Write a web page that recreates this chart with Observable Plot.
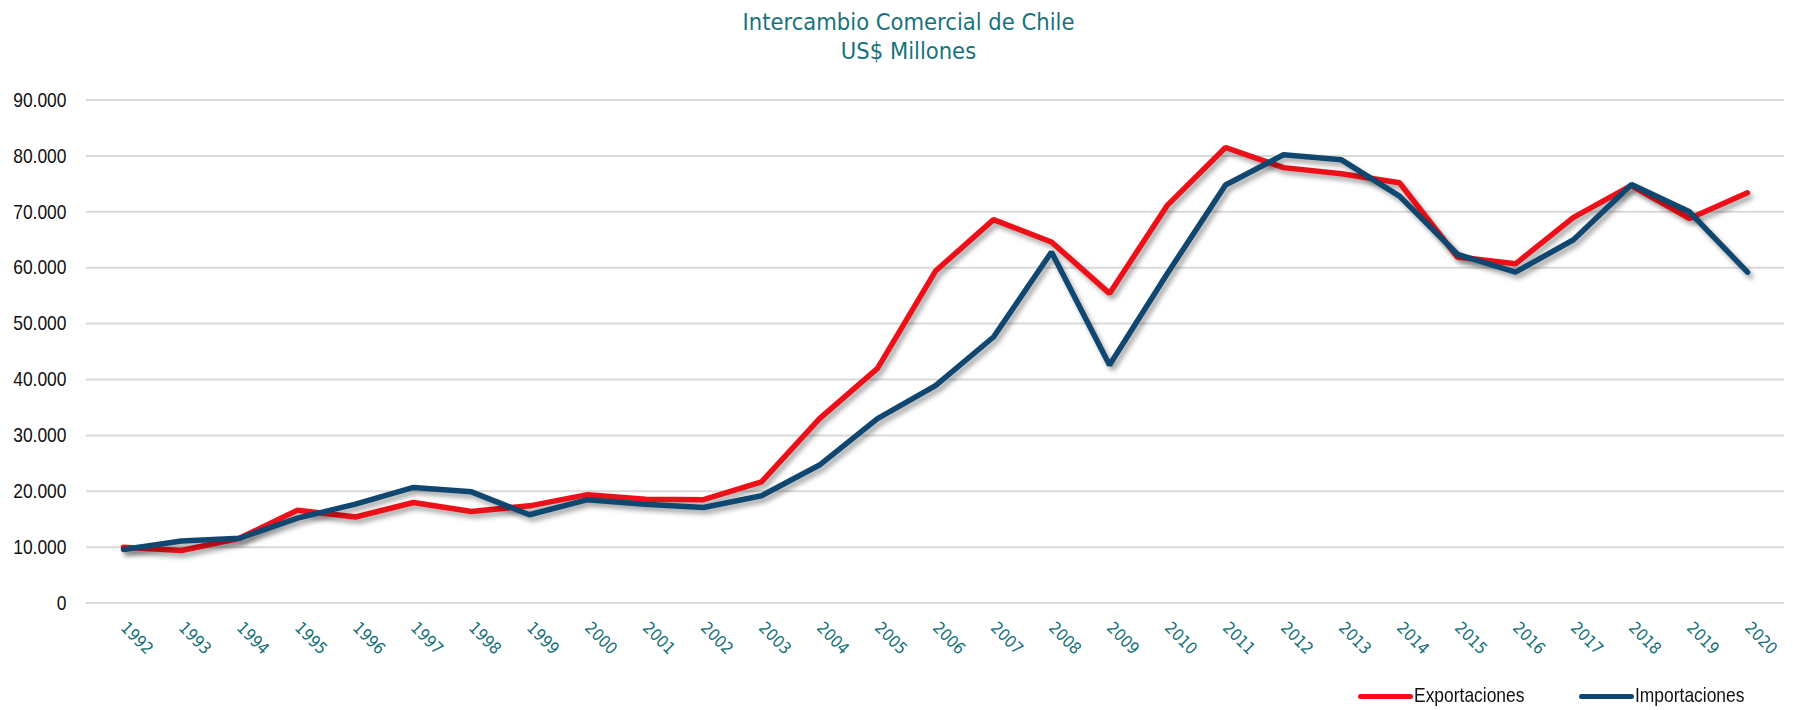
<!DOCTYPE html>
<html>
<head>
<meta charset="utf-8">
<script src="https://cdn.jsdelivr.net/npm/d3@7"></script>
<script src="https://cdn.jsdelivr.net/npm/@observablehq/plot@0.6"></script>
<style>
  body { margin: 0; background: #fff; }
  #wrap { width: 1793px; height: 710px; position: relative; overflow: hidden; }
  #title { height: 70px; box-sizing: border-box; padding-top: 8px; text-align: center;
    position: relative; left: 12px; font-family: "DejaVu Sans Condensed", "DejaVu Sans", sans-serif;
    font-size: 23.5px; line-height: 29px; color: #17727b; }
  #legend { position: relative; height: 40px; font-family: "Liberation Sans", sans-serif;
    font-size: 21px; color: #111; }
  .sw { position: absolute; height: 5px; border-radius: 3px; top: 24px; width: 55px; }
  .lt { position: absolute; top: 14px; line-height: 22px; transform: scaleX(0.83); transform-origin: 0 50%; white-space: nowrap; }
  g[aria-label="line"] { filter: drop-shadow(3px 4px 2.5px rgba(0,0,0,0.35)); }
</style>
</head>
<body>
<div id="wrap">
  <div id="title">Intercambio Comercial de Chile<br>US$ Millones</div>
  <div id="chart"></div>
  <div id="legend"></div>
</div>
<script>
const years = [1992,1993,1994,1995,1996,1997,1998,1999,2000,2001,2002,2003,2004,2005,2006,2007,2008,2009,2010,2011,2012,2013,2014,2015,2016,2017,2018,2019,2020];
const exportaciones = [10000,9400,11600,16600,15400,18000,16400,17400,19400,18600,18500,21700,33000,42000,59400,68600,64600,55400,71200,81500,77900,76800,75200,61900,60700,69000,74700,68800,73400];
const importaciones = [9600,11100,11600,15200,17700,20700,19900,15800,18500,17700,17100,19200,24700,33000,38900,47600,62800,42600,59000,74800,80200,79300,72800,62400,59200,65000,74900,70000,59200];
const yTicks = [0,10000,20000,30000,40000,50000,60000,70000,80000,90000];
const seriesNames = ["Exportaciones", "Importaciones"];
const seriesColors = ["#ee1018", "#0f4771"];

const fmt = d3.formatLocale({decimal: ",", thousands: ".", grouping: [3], currency: ["$", ""]}).format(",");

const rows = [];
years.forEach((yr, i) => {
  rows.push({year: yr, value: exportaciones[i], serie: seriesNames[0]});
  rows.push({year: yr, value: importaciones[i], serie: seriesNames[1]});
});

const chart = Plot.plot({
  width: 1793,
  height: 600,
  marginLeft: 86,
  marginRight: 9,
  marginTop: 29.5,
  marginBottom: 67.4,
  style: {fontFamily: "'Liberation Sans', sans-serif", fontSize: "21px", background: "#fff", overflow: "visible"},
  x: {type: "point", domain: years, padding: 0.5},
  y: {domain: [0, 90000]},
  color: {domain: seriesNames, range: seriesColors},
  marks: [
    Plot.gridY(yTicks, {stroke: "#d9d9d9", strokeOpacity: 1, strokeWidth: 2}),
    Plot.axisY(yTicks, {tickSize: 0, tickPadding: 20, tickFormat: fmt, fill: "#111", label: null, fontSize: 21}),
    Plot.axisX(years, {tickSize: 0, tickRotate: 45, tickPadding: 22, tickFormat: d => String(d), fill: "#147079", label: null,
      fontFamily: "'DejaVu Sans Condensed', 'DejaVu Sans', sans-serif", fontSize: 16.5}),
    Plot.lineY(rows.filter(d => d.serie === seriesNames[0]), {x: "year", y: "value", stroke: "serie", strokeWidth: 5.5, strokeLinejoin: "miter", strokeLinecap: "round"}),
    Plot.lineY(rows.filter(d => d.serie === seriesNames[1]), {x: "year", y: "value", stroke: "serie", strokeWidth: 5.5, strokeLinejoin: "miter", strokeLinecap: "round"})
  ]
});
document.getElementById("chart").appendChild(chart);

// condense y-axis labels to mimic a narrow typeface
d3.select(chart).selectAll('g[aria-label="y-axis tick label"] text').each(function() {
  const len = this.getComputedTextLength();
  if (len > 0) {
    this.setAttribute("textLength", (len * 0.83).toFixed(1));
    this.setAttribute("lengthAdjust", "spacingAndGlyphs");
  }
});

const legend = document.getElementById("legend");
const legendPos = [1358, 1579];
seriesNames.forEach((name, i) => {
  const sw = document.createElement("div");
  sw.className = "sw";
  sw.style.left = legendPos[i] + "px";
  sw.style.background = seriesColors[i];
  legend.appendChild(sw);
  const t = document.createElement("div");
  t.className = "lt";
  t.style.left = (legendPos[i] + 56) + "px";
  t.textContent = name;
  legend.appendChild(t);
});
</script>
</body>
</html>
